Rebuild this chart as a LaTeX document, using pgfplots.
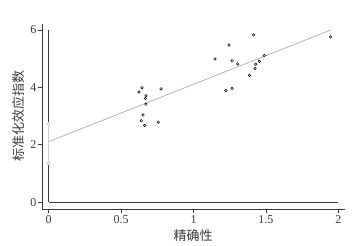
\documentclass[border=0pt]{standalone}
\usepackage{pgfplots}
\pgfplotsset{compat=1.18}
\usepackage{fontspec}
\setmainfont{Liberation Serif}
\newfontfamily\cjk{Noto Sans CJK SC}
\definecolor{axc}{HTML}{3A3A3A}
\definecolor{fitc}{HTML}{B4B4B4}
\definecolor{cic}{HTML}{CCCCCC}
\begin{document}
\begin{tikzpicture}
\path[use as bounding box] (-42.3pt,-36.7pt) rectangle (310.7pt,209.3pt);
\begin{axis}[
  scale only axis,
  width=302.7pt, height=185.3pt,
  xmin=-0.043, xmax=2.045,
  ymin=-0.244, ymax=6.21,
  axis x line=bottom, axis y line=left,
  axis line style={-, axc, line width=0.9pt},
  tick align=outside,
  major tick length=4pt,
  tick style={axc, line width=0.8pt},
  xtick={0,0.5,1,1.5,2},
  xticklabels={0,0.5,1,1.5,2},
  ytick={0,2,4,6},
  yticklabels={0,2,4,6},
  ticklabel style={font=\fontsize{12}{14}\selectfont, text=axc},
  xticklabel style={yshift=1pt},
  yticklabel style={xshift=1.5pt},
  xlabel={\cjk 精确性},
  ylabel={\cjk 标准化效应指数},
  label style={font=\fontsize{13}{15}\selectfont, text=axc},
  xlabel style={at={(axis description cs:0.498,-0.14)}, anchor=center},
  ylabel style={at={(axis description cs:-0.079,0.506)}, anchor=center},
  clip=false,
]
% inner reference lines
\addplot[axc, line width=1pt] coordinates {(0,0) (0,6)};
\addplot[axc, line width=1pt] coordinates {(0,0) (2,0)};
% confidence interval of intercept
\addplot[cic, line width=1.8pt, mark=*, mark options={fill=white, draw=cic, line width=0.8pt}, mark size=1.5pt] coordinates {(0,1.36) (0,2.73)};
% fitted line
\addplot[fitc, line width=0.8pt] coordinates {(0,2.11) (1.946,6.0)};
% data points
\addplot[only marks, mark=o, mark size=1.3pt, mark options={black, line width=0.5pt}] coordinates {
(0.645,3.99) (0.624,3.84) (0.776,3.95) (0.672,3.71) (0.668,3.62)
(0.672,3.42) (0.652,3.04) (0.640,2.84) (0.663,2.68) (0.757,2.79)
(1.415,5.83) (1.245,5.48) (1.148,4.99) (1.266,4.93) (1.305,4.82)
(1.488,5.11) (1.454,4.91) (1.429,4.81) (1.424,4.66) (1.385,4.42)
(1.266,3.97) (1.224,3.89) (1.946,5.76)
};
\end{axis}
\end{tikzpicture}
\end{document}
